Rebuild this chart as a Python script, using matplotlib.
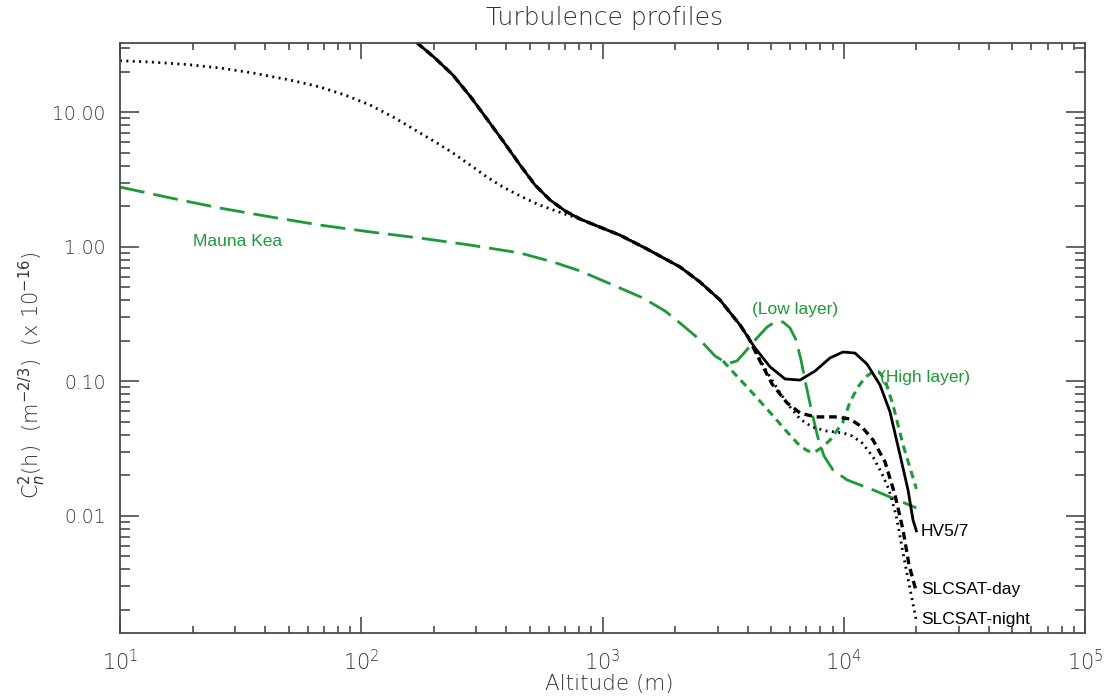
import numpy as np
import matplotlib
matplotlib.use("Agg")
import matplotlib.pyplot as plt
from matplotlib.ticker import FixedLocator, FixedFormatter, LogLocator, NullFormatter

# ---------------- data (altitude in m, Cn2 in units of 1e-16 m^-2/3) ----------------
# low-altitude part shared by HV5/7 and SLCSAT-day
hv_top_alt = [144.8, 170.2, 202.2, 240.0, 282.4, 331.9, 386.8, 455.0, 525.1, 605.9, 699.2]
hv_top_cn2 = [45.3, 32.9, 25.3, 18.9, 13.2, 8.92, 6.12, 4.06, 2.88, 2.23, 1.85]

# part shared by all three Hufnagel-Valley / SLCSAT curves
common_alt = [806.6, 976.3, 1181, 1529, 2095, 2536, 3069, 3715]
common_cn2 = [1.61, 1.40, 1.22, 0.963, 0.708, 0.547, 0.402, 0.262]

hv_tail_alt = [4287, 4947, 5708, 6587, 7599, 8770, 9929, 11134, 12490, 14135, 15550,
               17110, 18460, 19365, 20000]
hv_tail_cn2 = [0.177, 0.128, 0.104, 0.102, 0.119, 0.149, 0.165, 0.162, 0.134, 0.0939,
               0.0591, 0.0283, 0.0156, 0.00931, 0.00771]

day_tail_alt = [4010, 4496, 5042, 5819, 6587, 7599, 9199, 10615, 11903, 13220, 14830,
                16310, 17610, 18640, 20000]
day_tail_cn2 = [0.2135, 0.1416, 0.0955, 0.0690, 0.0581, 0.0543, 0.0543, 0.0524, 0.0457,
                0.0366, 0.0251, 0.01426, 0.00783, 0.00430, 0.00271]

night_low_alt = [10, 13.32, 18.95, 25.97, 35.60, 50.67, 67.45, 85.63, 108.7, 138.0, 175.2,
                 206.1, 240.0, 282.4, 331.9, 386.8, 455.0, 535.3, 623.4, 699.2]
night_low_cn2 = [24.19, 23.66, 22.67, 21.35, 19.60, 17.38, 15.42, 13.45, 11.33, 9.07, 7.02,
                 5.91, 4.98, 4.06, 3.30, 2.78, 2.39, 2.08, 1.88, 1.75]

night_tail_alt = [4010, 4496, 4947, 5442, 5988, 6587, 7386, 8442, 9929, 10820, 11903,
                  13220, 14405, 15400, 16470, 17610, 18640, 19365, 20000]
night_tail_cn2 = [0.2135, 0.144, 0.1076, 0.0818, 0.0644, 0.0524, 0.0457, 0.0427, 0.0413,
                  0.0392, 0.0348, 0.0274, 0.0205, 0.0156, 0.01014, 0.00529, 0.00311,
                  0.00221, 0.00165]

mk_low_alt = [10, 16.12, 25.97, 41.86, 67.45, 108.7, 175.2, 282.4, 455.0, 623.4, 806.6,
              1105, 1472, 1816, 2095, 2536, 2926, 3158, 3377, 3610, 3896, 4370, 4808,
              5188, 5600, 5988, 6340, 6650, 6975, 7386, 7821, 8281, 9024, 10316, 13220,
              16620, 20000]
mk_low_cn2 = [2.78, 2.31, 1.94, 1.67, 1.45, 1.29, 1.16, 1.03, 0.899, 0.771, 0.661,
              0.520, 0.416, 0.333, 0.271, 0.203, 0.1542, 0.1416, 0.1368, 0.1416, 0.165,
              0.210, 0.253, 0.276, 0.276, 0.249, 0.203, 0.144, 0.0939, 0.0581, 0.0379,
              0.0278, 0.0219, 0.01846, 0.01556, 0.01311, 0.01143]

mk_high_alt = [3158, 3474, 3972, 4808, 5819, 6587, 7109, 7599, 8204, 8855, 9929, 10615,
               11460, 12370, 13220, 14000, 14830, 16000, 17610, 20000]
mk_high_cn2 = [0.1416, 0.1172, 0.0907, 0.0622, 0.0420, 0.0330, 0.0303, 0.0298, 0.0325,
               0.0372, 0.0498, 0.0702, 0.0907, 0.1085, 0.1172, 0.1172, 0.1022, 0.0666,
               0.0336, 0.01582]

ytick_vals = [0.01, 0.1, 1.0, 10.0]
ytick_labels = ["0.01", "0.10", "1.00", "10.00"]

hv57_alt = hv_top_alt + common_alt + hv_tail_alt
hv57_cn2 = hv_top_cn2 + common_cn2 + hv_tail_cn2
day_alt = hv_top_alt + common_alt + day_tail_alt
day_cn2 = hv_top_cn2 + common_cn2 + day_tail_cn2
night_alt = night_low_alt + common_alt + night_tail_alt
night_cn2 = night_low_cn2 + common_cn2 + night_tail_cn2

# ---------------- figure ----------------
plt.rcParams['lines.scale_dashes'] = False
W, H = 1104, 698
fig = plt.figure(figsize=(W / 100, H / 100), dpi=100)
L, R, T, B = 120, 1085, 42.7, 632.7
ax = fig.add_axes([L / W, 1 - B / H, (R - L) / W, (B - T) / H])
ax.set_xscale('log')
ax.set_yscale('log')
ax.set_xlim(10, 1e5)
ax.set_ylim(10 ** -2.870, 10 ** 1.5175)

green = '#1b9a37'
axcol = '#4a4a4a'
txtfont = {'family': 'DejaVu Sans', 'weight': 'light'}
lab = {'family': ['Liberation Sans', 'DejaVu Sans']}

ax.plot(mk_low_alt, mk_low_cn2, color=green, lw=2.0, dashes=(18, 6.5))
ax.plot(mk_high_alt, mk_high_cn2, color=green, lw=2.2, dashes=(5.5, 4))
ax.plot(night_alt, night_cn2, color='black', lw=2.0, dashes=(1.4, 3.2))
ax.plot(day_alt, day_cn2, color='black', lw=2.4, dashes=(5.5, 3.5))
ax.plot(hv57_alt, hv57_cn2, color='black', lw=2.0)

for s in ax.spines.values():
    s.set_color(axcol)
    s.set_linewidth(1.3)

ax.yaxis.set_major_locator(FixedLocator(ytick_vals))
ax.yaxis.set_major_formatter(FixedFormatter(ytick_labels))
ax.yaxis.set_minor_locator(LogLocator(base=10, subs=np.arange(2, 10), numticks=20))
ax.yaxis.set_minor_formatter(NullFormatter())
ax.xaxis.set_major_locator(LogLocator(base=10, numticks=10))
ax.xaxis.set_minor_locator(LogLocator(base=10, subs=np.arange(2, 10), numticks=20))
ax.xaxis.set_minor_formatter(NullFormatter())

ax.tick_params(axis='both', which='both', direction='in', top=True, right=True,
               color=axcol, width=1.2, labelcolor='#333333')
ax.tick_params(axis='x', which='major', length=11.5, pad=12, labelsize=15)
ax.tick_params(axis='x', which='minor', length=5)
ax.tick_params(axis='y', which='major', length=13.5, pad=10.5, labelsize=13.5)
ax.tick_params(axis='y', which='minor', length=7)
for t in ax.get_xticklabels() + ax.get_yticklabels():
    t.set_fontfamily('DejaVu Sans')
    t.set_fontweight('light')

fig.text(605 / W, 1 - 18 / H, 'Turbulence profiles', ha='center', va='center',
         fontsize=18, color='#333333', **txtfont)
fig.text(609 / W, 1 - 684 / H, 'Altitude (m)', ha='center', va='center',
         fontsize=15.5, color='#333333', **txtfont)
fig.text(32 / W, 1 - 375 / H, r'C$_n^2$(h)  (m$^{-2/3}$)  (x 10$^{-16}$)', ha='center',
         va='center', rotation=90, fontsize=15, color='#333333', **txtfont)

# annotations
ax.text(20.1, 1.086, 'Mauna Kea', color=green, fontsize=12.5, ha='left', va='center', **lab)
ax.text(4169, 0.339, '(Low layer)', color=green, fontsize=12.5, ha='left', va='center', **lab)
ax.text(14130, 0.106, '(High layer)', color=green, fontsize=12.5, ha='left', va='center', **lab)
ax.text(20890, 0.00759, 'HV5/7', color='black', fontsize=12.5, ha='left', va='center', **lab)
ax.text(20890, 0.00281, 'SLCSAT-day', color='black', fontsize=12.5, ha='left', va='center', **lab)
ax.text(20890, 0.00168, 'SLCSAT-night', color='black', fontsize=12.5, ha='left', va='center', **lab)

fig.savefig('out.png', dpi=100)
